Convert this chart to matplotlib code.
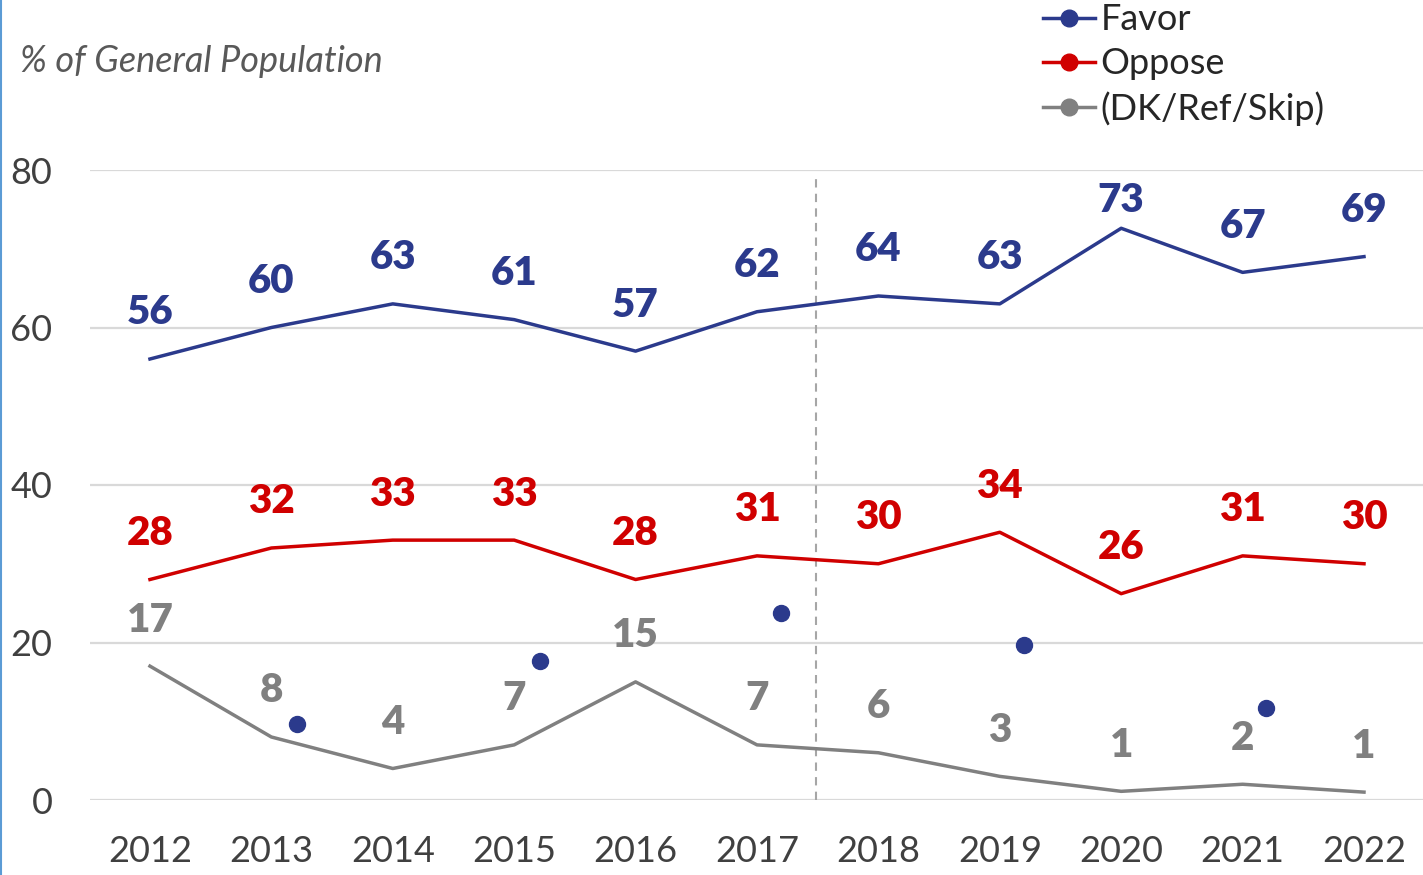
import matplotlib.pyplot as plt
from matplotlib.lines import Line2D

years = [2012, 2013, 2014, 2015, 2016, 2017, 2018, 2019, 2020, 2021, 2022]
favor = [56, 60, 63, 61, 57, 62, 64, 63, 72.6, 67, 69]
oppose = [28, 32, 33, 33, 28, 31, 30, 34, 26.2, 31, 30]
dk = [17, 8, 4, 7, 15, 7, 6, 3, 1.1, 2, 1]

# stray navy markers that appear in the original
extra_x = [2013.21, 2015.21, 2017.2, 2019.2, 2021.19]
extra_y = [9.7, 17.7, 23.7, 19.7, 11.7]

split_year = 2017.49

NAVY = '#2B3A8C'
RED = '#D00000'
GREY = '#808080'

plt.rcParams['font.family'] = ['Lato', 'DejaVu Sans']

fig = plt.figure(figsize=(14.23, 8.75), dpi=100)
W, H = 1423, 875
ax = fig.add_axes([90 / W, 75 / H, (W - 90) / W, 630 / H])

ax.set_xlim(2011.506, 2022.486)
ax.set_ylim(0, 80)

for y in [0, 20, 40, 60, 80]:
    ax.axhline(y, color='#d9d9d9', lw=1.6, zorder=0)

ax.axvline(split_year, ymin=0, ymax=0.99, color='#a6a6a6', lw=1.5, ls=(0, (4, 3)), zorder=1)

series = [(favor, NAVY), (oppose, RED), (dk, GREY)]
for vals, col in series:
    ax.plot(years, vals, color=col, lw=2.5, zorder=3)
    for x, v in zip(years, vals):
        # labels sit above the point, but stay inside the plot area
        ty = min(v + 5.85, 76.1)
        ax.text(x, ty, f'{round(v):d}', ha='center', va='center', fontsize=29,
                fontweight='heavy', color=col, clip_on=False)

ax.plot(extra_x, extra_y, 'o', color=NAVY, ms=11.5, zorder=4)

for s in ax.spines.values():
    s.set_visible(False)
ax.set_yticks([0, 20, 40, 60, 80])
ax.set_xticks(years)
ax.tick_params(length=0, labelsize=26, colors='#404040')
ax.tick_params(axis='y', pad=27)
ax.tick_params(axis='x', pad=25)

fig.text(20 / W, 1 - 61 / H, '% of General Population', fontsize=26, style='italic',
         color='#595959', ha='left', va='center')

handles = [Line2D([], [], color=c, lw=2.5, marker='o', ms=12) for c in [NAVY, RED, GREY]]
fig.legend(handles, ['Favor', 'Oppose', '(DK/Ref/Skip)'], loc='upper left',
           bbox_to_anchor=(1010 / W, 1 + 29 / H), frameon=False, fontsize=26,
           handlelength=1.45, handletextpad=0.15, labelspacing=0.3, labelcolor='#262626')

fig.add_artist(Line2D([1 / W, 1 / W], [0, 1], color='#5B9BD5', lw=1.5))

fig.savefig('out.png', dpi=100)
